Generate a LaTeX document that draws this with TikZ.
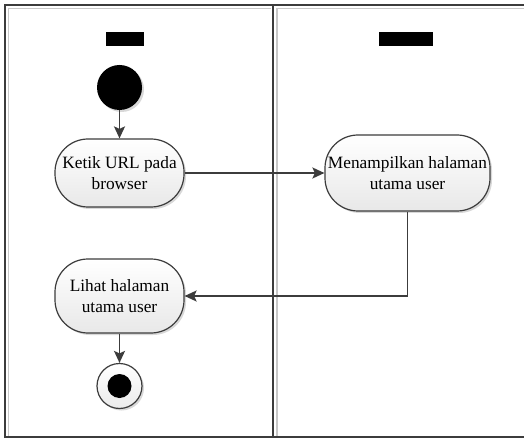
\documentclass[tikz,border=0pt]{standalone}
\usepackage{fontspec}
\setmainfont{Liberation Serif}
\usetikzlibrary{arrows.meta,shadows}
\definecolor{edge}{HTML}{3C3C3C}
\definecolor{lanegray}{HTML}{C8C8C8}
\tikzset{
  activity/.style={rectangle, rounded corners=33pt, draw=edge, line width=1.2pt,
    top color=white, bottom color=black!9, align=center,
    font=\fontsize{17.3}{20.5}\selectfont, inner sep=2pt,
    drop shadow={shadow xshift=2pt, shadow yshift=-2pt, fill=black!30, opacity=0.5}},
  flow/.style={draw=edge, line width=1.8pt,
    -{Stealth[length=12pt, width=11pt, inset=2.5pt]}},
  lanetitle/.style={rectangle, fill=black, inner sep=0pt}
}
\begin{document}
\begin{tikzpicture}[x=1pt, y=-1pt]
  \useasboundingbox (0,0) rectangle (524,438);
  \fill[white] (0,0) rectangle (524,438);

  % swimlane frame
  \draw[lanegray, line width=1.5pt] (8.5,437) -- (8.5,8.5) -- (271,8.5);
  \draw[lanegray, line width=1.5pt] (277,437) -- (277,8.5) -- (530,8.5);
  \draw[edge, line width=1.7pt] (530,5) -- (5,5) -- (5,437) -- (530,437);
  \draw[edge, line width=1.7pt] (273.3,5) -- (273.3,437);

  % lane titles
  \node[lanetitle, minimum width=38.6pt, minimum height=14pt] (titleA) at (125,39) {};
  \node[lanetitle, minimum width=54pt, minimum height=14pt] (titleB) at (406,39) {};

  % initial node
  \node[circle, fill=black, minimum size=45pt, inner sep=0pt,
        drop shadow={shadow xshift=2pt, shadow yshift=-2pt, fill=black!30, opacity=0.5}]
        (start) at (119.5,87.5) {};

  % activities
  \node[activity, minimum width=129pt, minimum height=68pt] (n1) at (119.5,173) {Ketik URL pada\\browser};
  \node[activity, minimum width=165pt, minimum height=76pt] (n2) at (407.5,173) {Menampilkan halaman\\utama user};
  \node[activity, minimum width=129pt, minimum height=74pt] (n3) at (119.5,296) {Lihat halaman\\utama user};

  % final node
  \node[circle, draw=edge, line width=1.2pt, top color=white, bottom color=black!8,
        minimum size=45pt, inner sep=0pt,
        drop shadow={shadow xshift=2pt, shadow yshift=-2pt, fill=black!30, opacity=0.5}]
        (final) at (119.5,386) {};
  \fill[black] (final.center) circle (12pt);

  % control flow
  \draw[flow] (start) -- (n1);
  \draw[flow] (n1) -- (n2);
  \draw[flow] (n2.south) |- (n3.east);
  \draw[flow] (n3) -- (final);
\end{tikzpicture}
\end{document}
